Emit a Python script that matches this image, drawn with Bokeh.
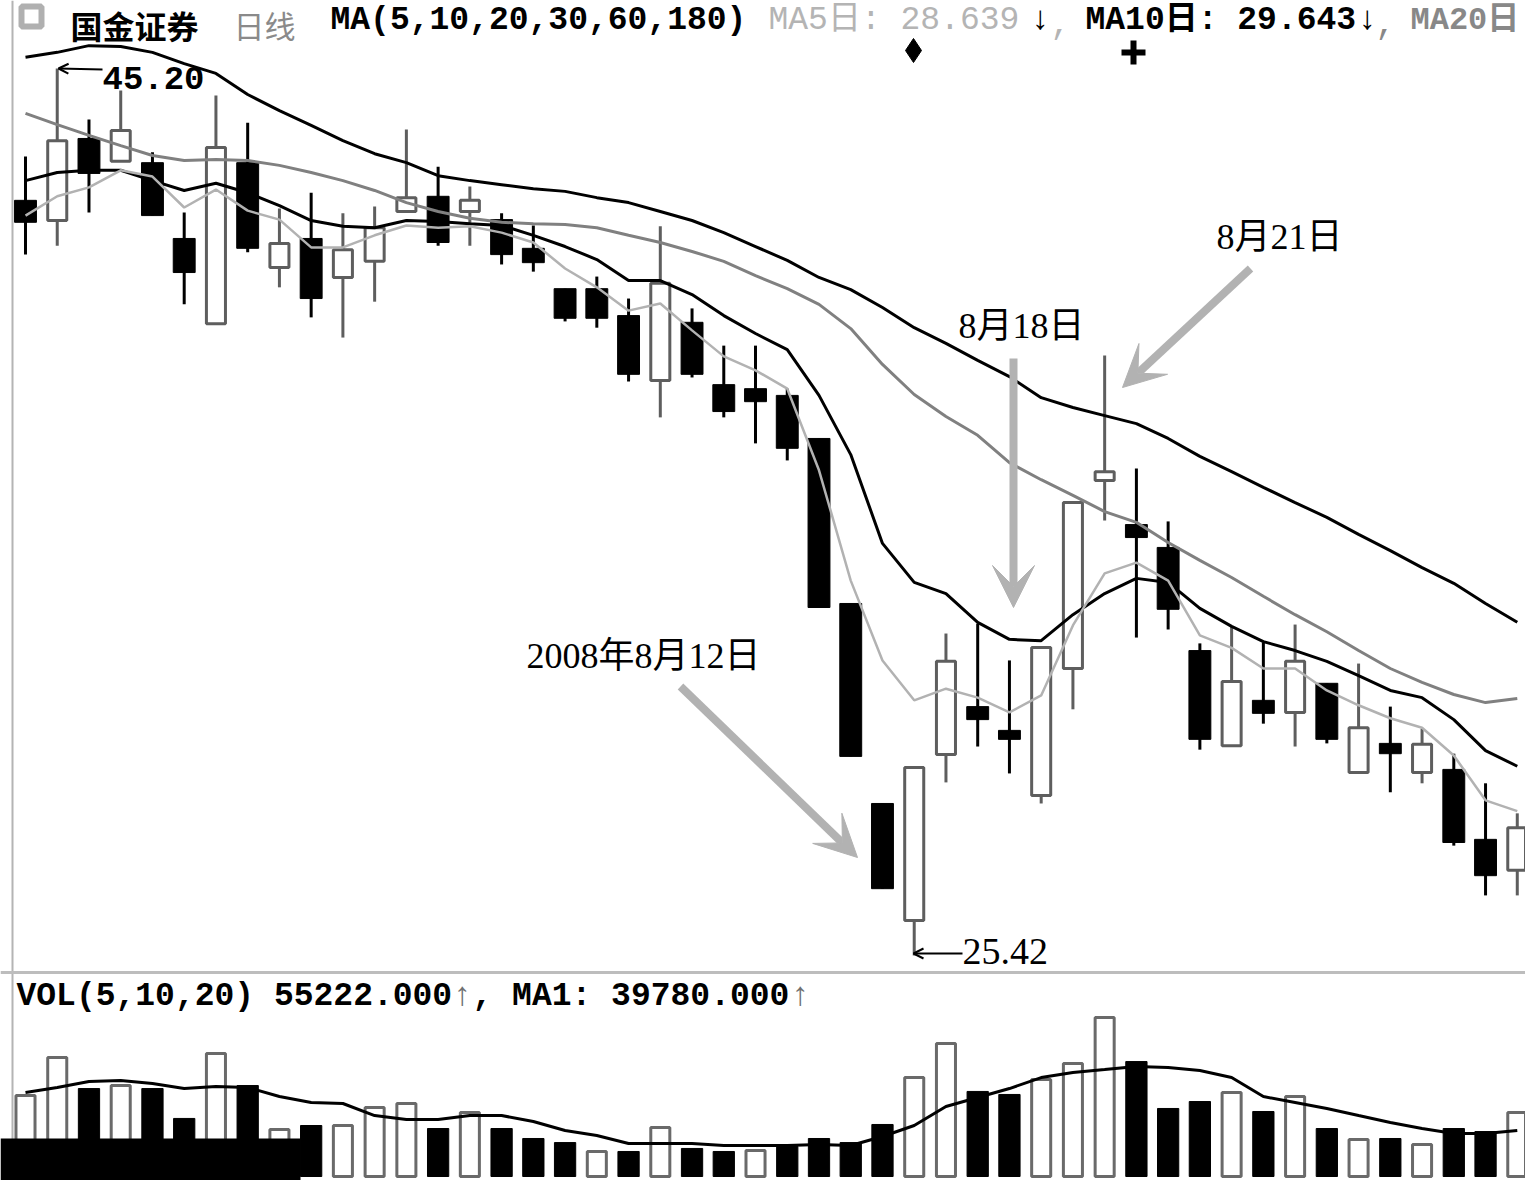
from bokeh.plotting import figure
from bokeh.models import (Range1d, ColumnDataSource, Arrow, VeeHead, OpenHead, Label,
                          Span, BoxAnnotation)
from bokeh.embed import file_html
from bokeh.resources import INLINE

# ---------------- data ----------------
days = list(range(1, 49))
opens = [42.26, 41.81, 43.64, 43.13, 43.10, 41.41, 39.51, 43.10, 40.76, 41.41,
         40.54, 40.90, 42.01, 42.35, 42.01, 41.83, 41.19, 40.29, 40.29, 39.69,
         38.24, 39.54, 38.15, 38.06, 37.91, 36.95, 33.27, 28.81, 26.20, 29.90,
         30.97, 30.44, 28.99, 31.82, 36.01, 35.03, 34.52, 32.22, 30.10, 31.11,
         30.84, 31.49, 29.50, 30.15, 29.50, 29.57, 28.01, 27.32]
highs = [43.24, 45.20, 44.06, 44.71, 43.33, 41.99, 44.60, 43.99, 42.08, 42.43,
         41.97, 42.12, 43.84, 43.01, 42.57, 41.97, 41.70, 40.29, 40.56, 40.07,
         41.68, 39.85, 39.02, 39.02, 38.06, 36.95, 33.27, 28.81, 29.61, 32.60,
         32.82, 32.00, 32.29, 35.52, 38.80, 36.28, 35.10, 32.38, 32.76, 32.40,
         32.80, 31.49, 31.93, 30.97, 30.48, 29.92, 29.26, 28.59]
lows = [41.05, 41.25, 41.99, 43.13, 41.92, 39.94, 39.51, 41.10, 40.32, 39.65,
        39.20, 40.00, 42.01, 41.25, 41.25, 40.83, 40.67, 39.56, 39.42, 38.22,
        37.42, 38.31, 37.42, 36.84, 36.46, 33.18, 29.86, 26.91, 25.42, 29.28,
        30.08, 29.48, 28.81, 30.91, 35.12, 32.51, 32.69, 30.01, 30.10, 30.59,
        30.08, 30.15, 29.50, 29.06, 29.26, 27.87, 26.76, 26.76]
closes = [41.77, 43.59, 42.86, 43.82, 41.92, 40.65, 43.44, 41.19, 41.30, 40.07,
          41.16, 41.65, 42.32, 41.32, 42.26, 41.05, 40.87, 39.63, 39.63, 38.38,
          40.41, 38.38, 37.55, 37.77, 36.73, 33.18, 29.86, 26.91, 29.61, 31.98,
          30.68, 30.24, 32.29, 35.52, 36.21, 34.74, 33.14, 30.24, 31.53, 30.82,
          31.98, 30.24, 30.50, 29.92, 30.13, 27.94, 27.20, 28.27]
prior_close = 41.50

ma5 = [41.92, 42.35, 42.55, 42.93, 42.79, 42.10, 42.50, 42.03, 41.83, 41.21,
       41.21, 41.48, 41.70, 41.65, 41.68, 41.54, 41.32, 40.74, 40.32, 39.80,
       39.96, 39.36, 38.78, 38.47, 38.06, 36.24, 33.78, 32.00, 31.11, 31.37,
       31.17, 30.84, 31.22, 32.78, 33.94, 34.18, 33.78, 32.56, 32.28, 31.82,
       31.82, 31.33, 31.00, 30.71, 30.50, 29.88, 28.88, 28.64]
ma10 = [42.70, 42.88, 42.93, 42.93, 42.70, 42.48, 42.64, 42.43, 42.14, 41.81,
        41.68, 41.65, 41.81, 41.79, 41.74, 41.70, 41.48, 41.23, 40.94, 40.47,
        40.47, 40.16, 39.69, 39.29, 38.93, 37.91, 36.59, 34.61, 33.74, 33.49,
        32.85, 32.47, 32.44, 33.02, 33.49, 33.83, 33.74, 33.16, 32.76, 32.42,
        32.22, 31.98, 31.66, 31.33, 31.17, 30.68, 29.99, 29.64]
ma20 = [44.20, 43.95, 43.71, 43.48, 43.26, 43.15, 43.17, 43.15, 43.04, 42.88,
        42.70, 42.48, 42.21, 42.01, 41.86, 41.77, 41.74, 41.72, 41.65, 41.48,
        41.32, 41.12, 40.90, 40.58, 40.29, 39.94, 39.40, 38.60, 37.93, 37.44,
        37.02, 36.41, 36.03, 35.68, 35.32, 35.08, 34.63, 34.23, 33.85, 33.43,
        33.02, 32.64, 32.22, 31.82, 31.51, 31.24, 31.06, 31.15]
ma30 = [45.45, 45.56, 45.71, 45.69, 45.56, 45.31, 45.09, 44.62, 44.26, 43.93,
        43.59, 43.30, 43.10, 42.81, 42.70, 42.61, 42.52, 42.46, 42.32, 42.21,
        42.01, 41.81, 41.54, 41.23, 40.92, 40.54, 40.27, 39.87, 39.42, 39.07,
        38.69, 38.33, 37.86, 37.64, 37.46, 37.28, 36.95, 36.55, 36.21, 35.86,
        35.52, 35.19, 34.81, 34.45, 34.07, 33.72, 33.27, 32.85]

volumes = [69900, 102700, 75900, 78500, 75900, 50100, 106100, 78500, 40600, 44000,
           44000, 59500, 63000, 41400, 55200, 41400, 32800, 29300, 21600, 21600,
           42300, 24200, 21600, 22400, 25900, 32800, 29300, 44900, 85400, 114800,
           73400, 70800, 83700, 97500, 137200, 99200, 58700, 64700, 72500, 56100,
           69000, 41400, 31900, 32800, 27600, 41400, 38800, 55222]
vol_ma = [72500, 76800, 82000, 82800, 80300, 75900, 77700, 76800, 69000, 63900,
          63000, 52600, 49200, 49200, 52600, 52600, 47500, 39700, 35400, 28500,
          28500, 28500, 26800, 26800, 26800, 27600, 26800, 34500, 44000, 60400,
          68200, 75900, 85400, 89800, 92300, 94900, 94100, 91500, 85400, 69000,
          63900, 58700, 52600, 46600, 41400, 37100, 37100, 39780]

stock_name = "国金证券"
period_name = "日线"
ma_title = "MA(5,10,20,30,60,180)"
ma5_text = "MA5日: 28.639"
ma10_text = "MA10日: 29.643"
ma20_text = "MA20日"
vol_title = "VOL(5,10,20) 55222.000"
vol_ma_text = ", MA1: 39780.000"
high_label = "45.20"
low_label = "25.42"
notes = ["8月21日", "8月18日", "2008年8月12日"]

# ---------------- geometry: reference pixel -> data ----------------
PAGE_W, PAGE_H = 1525, 1180
CX0, CDX = 25.0, 31.74                # first candle centre, candle pitch (px)
PY0, PV0, PPP = 68.0, 45.20, 0.0223   # px row of 45.20, price per px
VY0, VPP = 1176.0, 863.0              # px row of zero volume, volume per px


def dx(sx):
    return 1 + (sx - CX0) / CDX


def dp(sy):
    return PV0 - (sy - PY0) * PPP


def dv(sy):
    return (VY0 - sy) * VPP


p = figure(width=PAGE_W, height=PAGE_H, output_backend="svg", toolbar_location=None,
           x_range=Range1d(dx(0), dx(PAGE_W)),
           y_range=Range1d(dp(PAGE_H), dp(0)),
           x_axis_location=None, y_axis_location=None, min_border=0)
p.extra_y_ranges = {"vol": Range1d(dv(PAGE_H), dv(0))}
p.xgrid.visible = False
p.ygrid.visible = False
p.outline_line_color = None
p.background_fill_color = "white"
p.border_fill_color = "white"

# frame lines
p.add_layout(Span(location=dx(12), dimension="height", line_color="#b4b4b4", line_width=2))
p.add_layout(Span(location=dp(972), dimension="width", line_color="#bdbdbd", line_width=3))

# ---------------- candles ----------------
up = [c >= o for o, c in zip(opens, closes)]
prev = [prior_close] + closes[:-1]
vup = [c >= pc for c, pc in zip(closes, prev)]


def pick(lst, mask):
    return [v for v, m in zip(lst, mask) if m]


nup = [not u for u in up]
src_up = ColumnDataSource(dict(x=pick(days, up), o=pick(opens, up), c=pick(closes, up),
                               h=pick(highs, up), l=pick(lows, up)))
src_dn = ColumnDataSource(dict(x=pick(days, nup), o=pick(opens, nup), c=pick(closes, nup),
                               h=pick(highs, nup), l=pick(lows, nup)))

WHITE_EDGE = "#5e5e5e"
p.segment("x", "h", "x", "l", source=src_dn, line_color="black", line_width=3)
p.segment("x", "h", "x", "l", source=src_up, line_color=WHITE_EDGE, line_width=3)
p.vbar(x="x", top="o", bottom="c", width=0.69, source=src_dn,
       fill_color="black", line_color="black", line_width=1)
p.vbar(x="x", top="c", bottom="o", width=0.6, source=src_up,
       fill_color="white", line_color=WHITE_EDGE, line_width=3)

# moving averages
p.line(days, ma30, line_color="black", line_width=3)
p.line(days, ma20, line_color="#808080", line_width=3)
p.line(days, ma10, line_color="black", line_width=3)
p.line(days, ma5, line_color="#b2b2b2", line_width=2.5)

# ---------------- volume ----------------
nvup = [not u for u in vup]
vsrc_up = ColumnDataSource(dict(x=pick(days, vup), v=pick(volumes, vup)))
vsrc_dn = ColumnDataSource(dict(x=pick(days, nvup), v=pick(volumes, nvup)))
p.vbar(x="x", top="v", bottom=0, width=0.67, source=vsrc_dn, y_range_name="vol",
       fill_color="black", line_color="black", line_width=1)
p.vbar(x="x", top="v", bottom=0, width=0.6, source=vsrc_up, y_range_name="vol",
       fill_color="white", line_color="#6a6a6a", line_width=3)
p.line(days, vol_ma, y_range_name="vol", line_color="black", line_width=3)

# black block at the lower left of the reference
p.add_layout(BoxAnnotation(left=dx(0), right=dx(300), bottom=dp(PAGE_H), top=dp(1138),
                           fill_color="black", fill_alpha=1.0, line_color=None))

# ---------------- texts ----------------
MONO = "Liberation Mono, Noto Sans CJK SC"
CJK = "Noto Sans CJK SC"
SERIF = "Liberation Serif, Noto Sans CJK SC"


def label(sx, sy, text, color="black", font=MONO, size=33, style="normal"):
    p.add_layout(Label(x=dx(sx), y=dp(sy), text=text, text_color=color, text_font=font,
                       text_font_size=f"{size}px", text_font_style=style,
                       text_baseline="middle", text_align="left"))


# window icon
p.scatter([dx(31)], [dp(16)], marker="square", size=20, fill_color="white",
          line_color="#b0b0b0", line_width=6)

label(70, 24, stock_name, "black", CJK, 32, "bold")
label(233, 24, period_name, "#8a8a8a", CJK, 31)
label(330, 20, ma_title, "black", MONO, 33, "bold")
label(768, 20, ma5_text, "#b4b4b4", MONO, 33)
label(1030, 20, "↓", "black", MONO, 33, "bold")
label(1050, 22, ",", "#b4b4b4", MONO, 33)
label(1085, 20, ma10_text, "black", MONO, 33, "bold")
label(1357, 20, "↓", "black", MONO, 33, "bold")
label(1375, 22, ",", "#888888", MONO, 33)
label(1410, 20, ma20_text, "#888888", MONO, 32, "bold")

p.scatter([dx(913)], [dp(50)], marker="diamond", size=24, fill_color="black", line_color="black")
p.scatter([dx(1133)], [dp(52)], marker="cross", size=24, line_color="black", line_width=6)

label(16, 996, vol_title, "black", MONO, 33, "bold")
label(452, 996, "↑", "#707070", MONO, 33)
label(472, 996, vol_ma_text, "black", MONO, 33, "bold")
label(790, 996, "↑", "#707070", MONO, 33)

# high / low markers
label(102, 77, high_label, "black", MONO, 34, "bold")
p.add_layout(Arrow(end=OpenHead(size=10, line_width=2, line_color="black"),
                   x_start=dx(102), y_start=dp(69), x_end=dx(58), y_end=dp(68),
                   line_color="black", line_width=2))
label(962, 951, low_label, "black", SERIF, 38)
p.add_layout(Arrow(end=OpenHead(size=10, line_width=2, line_color="black"),
                   x_start=dx(962), y_start=dp(953), x_end=dx(913), y_end=dp(953),
                   line_color="black", line_width=2))

# callouts
ARROW_C = "#b2b2b2"
label(1216, 236, notes[0], "black", SERIF, 36)
label(958, 325, notes[1], "black", SERIF, 36)
label(526, 655, notes[2], "black", SERIF, 36)
for (x0, y0, x1, y1) in [(1250, 268, 1122, 387), (1013, 358, 1013, 607), (680, 686, 857, 857)]:
    p.add_layout(Arrow(end=VeeHead(size=42, fill_color=ARROW_C, line_color=ARROW_C),
                       x_start=dx(x0), y_start=dp(y0), x_end=dx(x1), y_end=dp(y1),
                       line_color=ARROW_C, line_width=8))

open("out.html", "w").write(file_html(p, INLINE))
